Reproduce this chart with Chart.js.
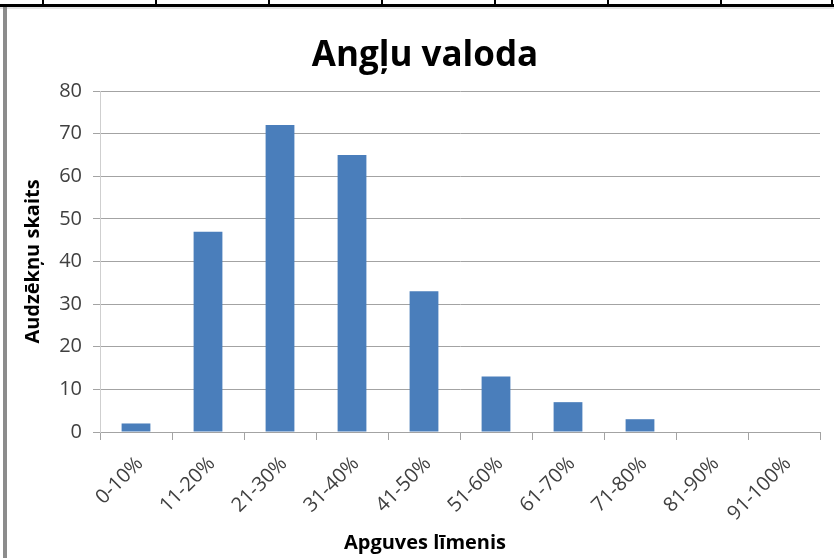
<!DOCTYPE html>
<html>
<head>
<meta charset="utf-8">
<title>Angļu valoda</title>
<script src="https://cdn.jsdelivr.net/npm/chart.js@4.4.1/dist/chart.umd.min.js"></script>
<style>
    body { margin: 0; background: #fff; }
    #wrap { position: relative; width: 834px; height: 558px; overflow: hidden; }
    #chart { position: absolute; left: 0; top: 0; }
    .line { position: absolute; background: #000; }
</style>
</head>
<body>
<div id="wrap">
    <canvas id="chart" width="834" height="558"></canvas>
    <!-- table border left over above the chart -->
    <div class="line" style="left:0;top:4px;width:834px;height:3px;"></div>
    <div class="line" style="left:0;top:7px;width:834px;height:2px;background:#e4e4e4;"></div>
    <div class="line" style="left:42px;top:0;width:2px;height:5px;"></div>
    <div class="line" style="left:155px;top:0;width:2px;height:5px;"></div>
    <div class="line" style="left:268px;top:0;width:2px;height:5px;"></div>
    <div class="line" style="left:381px;top:0;width:2px;height:5px;"></div>
    <div class="line" style="left:494px;top:0;width:2px;height:5px;"></div>
    <div class="line" style="left:607px;top:0;width:2px;height:5px;"></div>
    <div class="line" style="left:720px;top:0;width:2px;height:5px;"></div>
    <div class="line" style="left:831px;top:0;width:2px;height:5px;"></div>
    <div class="line" style="left:3px;top:7px;width:4px;height:551px;background:#8c8c8c;"></div>
</div>
<script>
let categories = ["0-10%", "11-20%", "21-30%", "31-40%", "41-50%",
                  "51-60%", "61-70%", "71-80%", "81-90%", "91-100%"];
let students = [2, 47, 72, 65, 33, 13, 7, 3, 0, 0];
let yTicks = [0, 10, 20, 30, 40, 50, 60, 70, 80];

let font = "'Open Sans', 'DejaVu Sans', sans-serif";
let gridColor = "#a3a3a3";

let chartData = {
    labels: categories,
    datasets: [{
        label: "Audzēkņu skaits",
        data: students,
        backgroundColor: "#4A7EBB",
        barPercentage: 0.4,
        categoryPercentage: 1.0
    }]
};

let chartOptions = {
    responsive: false,
    animation: false,
    layout: {
        padding: { left: 16, right: 0, top: 0, bottom: 0 }
    },
    plugins: {
        legend: { display: false },
        tooltip: { enabled: false },
        title: {
            display: true,
            text: "Angļu valoda",
            color: "#000",
            font: { family: font, size: 35, weight: "bold" },
            padding: { top: 35, bottom: 14 }
        },
        subtitle: {
            display: true,
            position: "bottom",
            text: "Apguves līmenis",
            color: "#000",
            font: { family: font, size: 20, weight: "bold" },
            padding: { top: 0, bottom: 3 }
        }
    },
    scales: {
        x: {
            afterFit: function(scale) { scale.height = 99; },
            grid: {
                offset: true,
                drawOnChartArea: false,
                tickLength: 8,
                color: gridColor
            },
            border: { color: gridColor },
            ticks: {
                color: "#404040",
                font: { family: font, size: 20 },
                minRotation: 45,
                maxRotation: 45,
                padding: 12,
                labelOffset: 4
            }
        },
        y: {
            min: 0,
            max: 80,
            afterFit: function(scale) { scale.width = 84; },
            afterBuildTicks: function(scale) {
                scale.ticks = yTicks.map(function(v) { return { value: v }; });
            },
            grid: {
                color: gridColor,
                tickLength: 7
            },
            border: { color: "#cfcfcf" },
            ticks: {
                color: "#404040",
                font: { family: font, size: 20 },
                padding: 11
            },
            title: {
                display: true,
                text: "Audzēkņu skaits",
                color: "#000",
                font: { family: font, size: 20, weight: "bold" },
                padding: { top: 5, bottom: 0 }
            }
        },
        // empty box on the right, keeps the plot 14px from the edge
        yRight: {
            position: "right",
            afterFit: function(scale) { scale.width = 14; },
            grid: { display: false },
            border: { display: false },
            ticks: { display: false }
        }
    }
};

let barChart = new Chart(document.getElementById("chart"), {
    type: "bar",
    data: chartData,
    options: chartOptions
});
</script>
</body>
</html>
